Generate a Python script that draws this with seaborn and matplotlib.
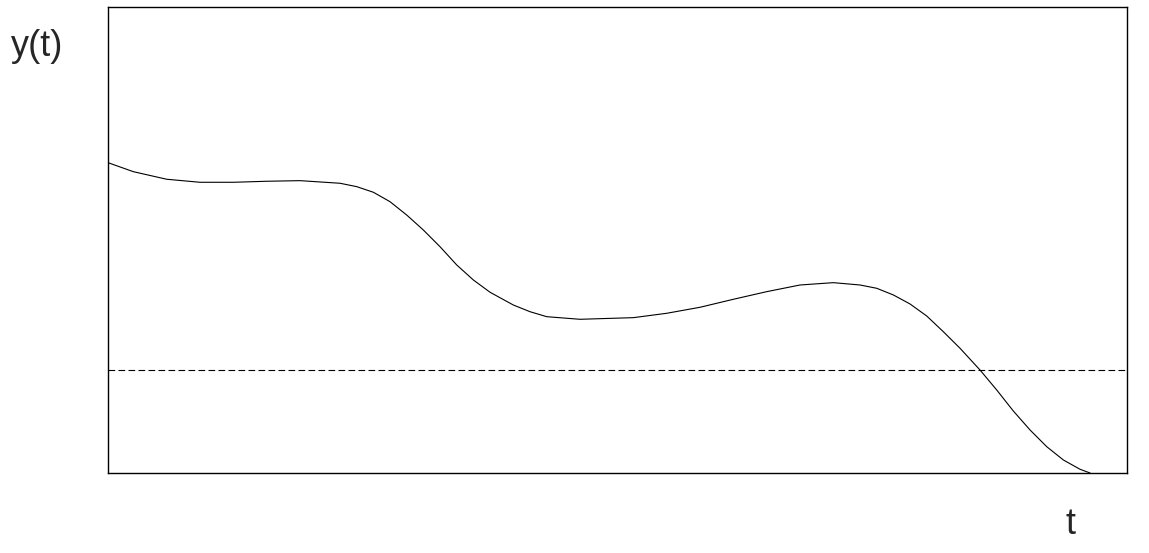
import matplotlib
matplotlib.use("Agg")
import matplotlib.pyplot as plt
import seaborn as sns
import pandas as pd

# Data (arbitrary units, axes span 0..10 on both)
t_values = [0.000, 0.248, 0.576, 0.903, 1.230, 1.557, 1.884, 2.277, 2.441, 2.604,
            2.767, 2.931, 3.094, 3.258, 3.422, 3.585, 3.749, 3.977, 4.141, 4.305,
            4.632, 4.959, 5.155, 5.483, 5.810, 6.136, 6.464, 6.791, 7.118, 7.380,
            7.544, 7.707, 7.870, 8.034, 8.197, 8.361, 8.557, 8.721, 8.884, 9.048,
            9.212, 9.375, 9.539, 9.637]
y_values = [6.659, 6.466, 6.303, 6.238, 6.238, 6.260, 6.273, 6.217, 6.144, 6.024,
            5.822, 5.536, 5.215, 4.856, 4.464, 4.142, 3.878, 3.605, 3.461, 3.354,
            3.298, 3.320, 3.333, 3.427, 3.556, 3.727, 3.891, 4.034, 4.084, 4.034,
            3.963, 3.820, 3.627, 3.369, 3.032, 2.676, 2.210, 1.781, 1.330, 0.923,
            0.564, 0.279, 0.079, 0.000]
threshold = 2.21

df = pd.DataFrame({"t": t_values, "y": y_values})

sns.set_theme(style="white")
plt.rcParams['font.family'] = ['Liberation Sans', 'DejaVu Sans']

fig = plt.figure(figsize=(11.49, 5.53), dpi=100)
ax = fig.add_axes([0.094, 0.1447, 0.8869, 0.8427])

sns.lineplot(data=df, x="t", y="y", ax=ax, color="black", linewidth=0.8, sort=False)
ax.axhline(threshold, color="black", linestyle=(0, (6, 3)), linewidth=0.8)

ax.set_xlim(0, 10)
ax.set_ylim(0, 10)
ax.set_xticks([])
ax.set_yticks([])
ax.set_xlabel("")
ax.set_ylabel("")
for s in ax.spines.values():
    s.set_visible(True)
    s.set_color("black")
    s.set_linewidth(1.0)

fig.text(37 / 1149, 1 - 47 / 553, "y(t)", fontsize=26, ha="center", va="center")
fig.text(1070 / 1149, 1 - 524 / 553, "t", fontsize=26, ha="center", va="center")

fig.savefig("out.png", dpi=100, facecolor="white")
